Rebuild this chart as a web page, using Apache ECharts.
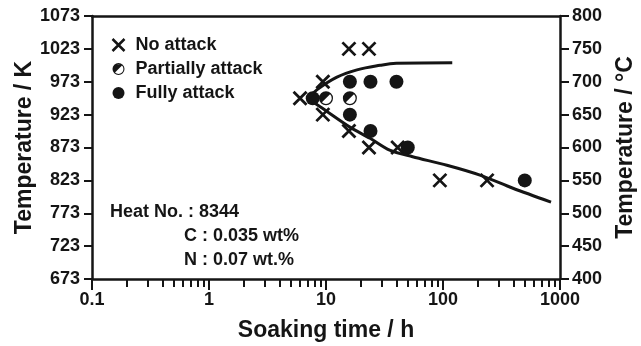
<!DOCTYPE html>
<html>
<head>
<meta charset="utf-8">
<script src="https://cdn.jsdelivr.net/npm/echarts@6/dist/echarts.min.js"></script>
<style>
  html, body { margin: 0; padding: 0; background: #fff; }
  #chart { width: 641px; height: 346px; }
</style>
</head>
<body>
<div id="chart"></div>
<script>
// valores (tempo em h, temperatura em °C)
var noAttack = [[6, 675], [9.4, 700], [9.4, 650], [15.7, 750], [23.3, 750], [15.7, 625], [23.3, 600], [41, 600], [94, 550], [238, 550]];
var partialAttack = [[10, 675], [16, 675]];
var fullAttack = [[7.7, 675], [16, 700], [24, 700], [40, 700], [16, 650], [24, 625], [50, 600], [500, 550]];
var upperCurve = [[7.0, 674], [8.4, 688], [12.4, 707], [18.4, 718], [29, 725], [40, 728], [120, 729]];
var lowerCurve = [[7.0, 674], [8.9, 662], [16, 631], [23.8, 614], [35, 596], [55, 586], [108, 573], [207, 558], [396, 538], [838, 517]];
var minorTicks = [0.2, 0.3, 0.4, 0.5, 0.6, 0.7, 0.8, 0.9, 2, 3, 4, 5, 6, 7, 8, 9, 20, 30, 40, 50, 60, 70, 80, 90, 200, 300, 400, 500, 600, 700, 800, 900];
var notes = ['Heat No. : 8344', 'C : 0.035 wt%', 'N : 0.07 wt.%'];

var ink = '#151515';
var fontBold = { fontFamily: 'Liberation Sans', fontWeight: 'bold', color: ink };

var crossPath = 'path://M0,0L10,10M10,0L0,10';
var halfPath = 'path://M0,10A10,10 0 1 1 20,10A10,10 0 1 1 0,10Z' +
    'M1.8,10A8.2,8.2 0 1 0 18.2,10A8.2,8.2 0 1 0 1.8,10Z' +
    'M4.2,15.8A8.2,8.2 0 0 1 15.8,4.2Z';

var dom = document.getElementById('chart');
var myChart = echarts.init(dom, null, { renderer: 'canvas' });

function plain(v) { return String(v); }

var option = {
    animation: false,
    grid: { left: 92, right: 81, top: 16, bottom: 67, containLabel: false, outerBoundsMode: 'none' },
    legend: {
        orient: 'vertical',
        left: 105,
        top: 31,
        itemWidth: 24,
        itemHeight: 12,
        itemGap: 6,
        data: [
            { name: 'No attack', itemStyle: { color: 'none', borderColor: ink, borderWidth: 2.5 } },
            { name: 'Partially attack' },
            { name: 'Fully attack' }
        ],
        textStyle: Object.assign({ fontSize: 18 }, fontBold)
    },
    xAxis: [
        {
            type: 'log',
            logBase: 10,
            min: 0.1,
            max: 1000,
            position: 'bottom',
            name: 'Soaking time / h',
            nameLocation: 'middle',
            nameGap: 40,
            nameMoveOverlap: false,
            nameTextStyle: Object.assign({ fontSize: 23 }, fontBold),
            axisLine: { show: true, lineStyle: { color: ink, width: 2.5 } },
            axisTick: { show: true, length: 11, lineStyle: { color: ink, width: 2 } },
            axisLabel: Object.assign({ fontSize: 18, margin: 12, formatter: plain }, fontBold),
            splitLine: { show: false }
        },
        {
            type: 'log',
            logBase: 10,
            min: 0.1,
            max: 1000,
            position: 'top',
            axisLine: { show: true, lineStyle: { color: ink, width: 2.5 } },
            axisTick: { show: false },
            axisLabel: { show: false },
            splitLine: { show: false }
        },
        {
            type: 'log',
            logBase: 10,
            min: 0.1,
            max: 1000,
            position: 'bottom',
            axisLine: { show: false },
            axisTick: { show: true, length: 8, customValues: minorTicks, lineStyle: { color: ink, width: 2 } },
            axisLabel: { show: false },
            splitLine: { show: false }
        }
    ],
    yAxis: [
        {
            type: 'value',
            min: 673,
            max: 1073,
            interval: 50,
            position: 'left',
            name: 'Temperature / K',
            nameLocation: 'middle',
            nameGap: 56,
            nameMoveOverlap: false,
            nameTextStyle: Object.assign({ fontSize: 23 }, fontBold),
            axisLine: { show: true, lineStyle: { color: ink, width: 2.5 } },
            axisTick: { show: true, length: 8, lineStyle: { color: ink, width: 2 } },
            axisLabel: Object.assign({ fontSize: 18, margin: 12, formatter: plain }, fontBold),
            splitLine: { show: false }
        },
        {
            type: 'value',
            min: 400,
            max: 800,
            interval: 50,
            position: 'right',
            name: 'Temperature / °C',
            nameLocation: 'middle',
            nameGap: 54,
            nameRotate: 90,
            nameMoveOverlap: false,
            nameTextStyle: Object.assign({ fontSize: 23 }, fontBold),
            axisLine: { show: true, lineStyle: { color: ink, width: 2.5 } },
            axisTick: { show: true, length: 9, lineStyle: { color: ink, width: 2 } },
            axisLabel: Object.assign({ fontSize: 18, margin: 12, formatter: plain }, fontBold),
            splitLine: { show: false }
        }
    ],
    graphic: [
        { type: 'text', left: 110, top: 203, style: { text: notes[0], font: 'bold 18px "Liberation Sans"', fill: ink } },
        { type: 'text', left: 184, top: 227, style: { text: notes[1], font: 'bold 18px "Liberation Sans"', fill: ink } },
        { type: 'text', left: 184, top: 251, style: { text: notes[2], font: 'bold 18px "Liberation Sans"', fill: ink } }
    ],
    series: [
        {
            type: 'line',
            name: 'upper',
            yAxisIndex: 1,
            data: upperCurve,
            smooth: 0.4,
            showSymbol: false,
            lineStyle: { color: ink, width: 3 }
        },
        {
            type: 'line',
            name: 'lower',
            yAxisIndex: 1,
            data: lowerCurve,
            smooth: 0.3,
            showSymbol: false,
            lineStyle: { color: ink, width: 3 }
        },
        {
            type: 'scatter',
            name: 'No attack',
            yAxisIndex: 1,
            data: noAttack,
            symbol: crossPath,
            symbolSize: 13,
            itemStyle: { color: 'none', borderColor: ink, borderWidth: 2.8, opacity: 1 }
        },
        {
            type: 'scatter',
            name: 'Partially attack',
            yAxisIndex: 1,
            data: partialAttack,
            symbol: halfPath,
            symbolSize: 14,
            itemStyle: { color: ink, opacity: 1 }
        },
        {
            type: 'scatter',
            name: 'Fully attack',
            yAxisIndex: 1,
            data: fullAttack,
            symbol: 'circle',
            symbolSize: 14,
            itemStyle: { color: ink, opacity: 1 }
        }
    ]
};

myChart.setOption(option);
</script>
</body>
</html>
